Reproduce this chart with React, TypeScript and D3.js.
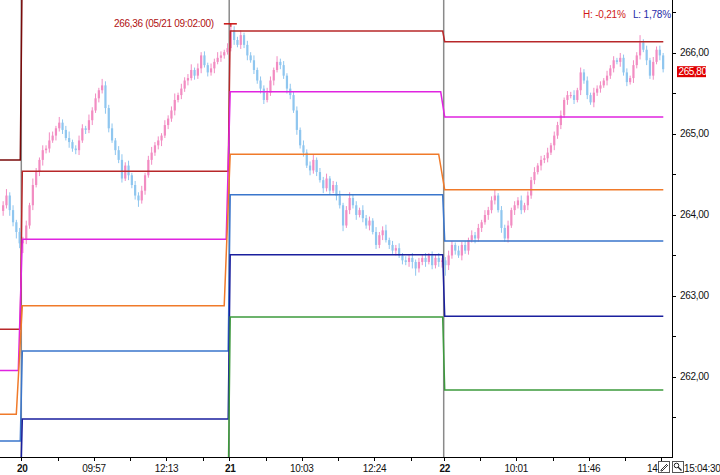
import React from "react";
import * as d3 from "d3";

// ---------- DATA ----------
const firstOpen = 264.05;
const preClose = [264.12, 264.24, 264.06, 263.91, 263.79, 263.65];
const day20Close = [263.69, 263.87, 264.12, 264.37, 264.53, 264.68, 264.80, 264.82, 264.92, 264.98, 265.07, 265.14, 265.05, 264.95, 264.90, 264.82, 264.80, 264.92, 265.07, 265.05, 265.17, 265.29, 265.44, 265.54, 265.60, 265.32, 265.07, 264.92, 264.80, 264.68, 264.45, 264.61, 264.49, 264.37, 264.24, 264.18, 264.30, 264.49, 264.68, 264.77, 264.86, 264.92, 264.98, 265.11, 265.19, 265.29, 265.42, 265.48, 265.56, 265.66, 265.69, 265.79, 265.72, 265.81, 265.97, 265.85, 265.76, 265.81, 265.89, 265.94, 265.97, 266.01, 266.06];
const day21Close = [266.28, 266.16, 266.10, 266.22, 266.10, 265.97, 265.91, 265.79, 265.66, 265.56, 265.42, 265.51, 265.66, 265.79, 265.89, 265.85, 265.72, 265.56, 265.48, 265.29, 265.05, 264.86, 264.77, 264.61, 264.55, 264.68, 264.53, 264.43, 264.33, 264.45, 264.30, 264.37, 264.24, 264.12, 263.87, 264.06, 264.21, 264.12, 264.00, 264.06, 263.96, 263.87, 263.93, 263.79, 263.63, 263.75, 263.81, 263.69, 263.63, 263.56, 263.59, 263.50, 263.44, 263.42, 263.47, 263.42, 263.34, 263.42, 263.47, 263.42, 263.50, 263.38, 263.47, 263.42, 263.44];
const day22Close = [263.38, 263.50, 263.63, 263.56, 263.50, 263.63, 263.56, 263.69, 263.75, 263.71, 263.84, 263.91, 264.00, 264.06, 264.18, 264.24, 264.06, 263.84, 263.71, 263.87, 264.06, 264.12, 264.18, 264.06, 264.12, 264.24, 264.43, 264.53, 264.61, 264.68, 264.70, 264.77, 264.86, 264.98, 265.11, 265.23, 265.42, 265.48, 265.48, 265.42, 265.54, 265.76, 265.66, 265.48, 265.39, 265.51, 265.56, 265.60, 265.66, 265.72, 265.81, 265.91, 265.89, 265.94, 265.76, 265.64, 265.69, 265.85, 265.97, 266.13, 266.04, 265.91, 265.72, 265.89, 266.04, 265.97, 265.80];

// upper / lower wick extents beyond the body
const preUp = [0.05, 0.08, 0.04, 0.06, 0.03, 0.05];
const preLo = [0.06, 0.04, 0.07, 0.05, 0.08, 0.06];
const day20Up = [0.04, 0.06, 0.03, 0.08, 0.05, 0.03, 0.06, 0.04, 0.10, 0.05, 0.03, 0.07, 0.04, 0.05, 0.08, 0.03, 0.04, 0.06, 0.05, 0.03, 0.07, 0.04, 0.06, 0.03, 0.08, 0.05, 0.04, 0.06, 0.03, 0.05, 0.07, 0.04, 0.06, 0.03, 0.05, 0.04, 0.06, 0.03, 0.05, 0.07, 0.04, 0.05, 0.03, 0.06, 0.04, 0.05, 0.08, 0.03, 0.06, 0.04, 0.05, 0.07, 0.03, 0.06, 0.04, 0.05, 0.03, 0.06, 0.04, 0.07, 0.05, 0.03, 0.06];
const day20Lo = [0.12, 0.05, 0.04, 0.06, 0.03, 0.05, 0.07, 0.04, 0.05, 0.03, 0.06, 0.04, 0.05, 0.03, 0.07, 0.04, 0.05, 0.06, 0.03, 0.05, 0.04, 0.06, 0.03, 0.05, 0.04, 0.07, 0.05, 0.03, 0.06, 0.04, 0.05, 0.03, 0.06, 0.04, 0.05, 0.08, 0.04, 0.05, 0.03, 0.06, 0.04, 0.05, 0.07, 0.03, 0.05, 0.04, 0.06, 0.03, 0.05, 0.04, 0.06, 0.03, 0.05, 0.04, 0.06, 0.03, 0.05, 0.04, 0.06, 0.03, 0.05, 0.04, 0.03];
const day21Up = [0.08, 0.05, 0.04, 0.06, 0.03, 0.05, 0.04, 0.06, 0.03, 0.05, 0.04, 0.06, 0.05, 0.03, 0.07, 0.04, 0.05, 0.03, 0.06, 0.04, 0.05, 0.03, 0.06, 0.04, 0.05, 0.07, 0.03, 0.05, 0.04, 0.06, 0.03, 0.05, 0.04, 0.06, 0.03, 0.05, 0.07, 0.04, 0.05, 0.03, 0.06, 0.04, 0.05, 0.03, 0.06, 0.04, 0.05, 0.07, 0.03, 0.05, 0.04, 0.06, 0.03, 0.05, 0.04, 0.06, 0.03, 0.05, 0.04, 0.06, 0.03, 0.05, 0.04, 0.06, 0.03];
const day21Lo = [0.04, 0.06, 0.03, 0.05, 0.04, 0.06, 0.03, 0.05, 0.04, 0.06, 0.05, 0.03, 0.04, 0.06, 0.03, 0.05, 0.04, 0.06, 0.05, 0.03, 0.06, 0.04, 0.05, 0.03, 0.06, 0.04, 0.05, 0.03, 0.06, 0.04, 0.05, 0.03, 0.06, 0.04, 0.07, 0.03, 0.05, 0.04, 0.06, 0.03, 0.05, 0.04, 0.06, 0.03, 0.05, 0.04, 0.06, 0.03, 0.05, 0.04, 0.06, 0.03, 0.05, 0.04, 0.06, 0.08, 0.09, 0.05, 0.04, 0.06, 0.03, 0.05, 0.04, 0.06, 0.07];
const day22Up = [0.04, 0.06, 0.05, 0.03, 0.06, 0.04, 0.05, 0.03, 0.06, 0.04, 0.05, 0.03, 0.06, 0.04, 0.05, 0.07, 0.03, 0.05, 0.04, 0.06, 0.03, 0.05, 0.04, 0.06, 0.03, 0.05, 0.04, 0.06, 0.03, 0.05, 0.04, 0.06, 0.03, 0.05, 0.04, 0.06, 0.03, 0.05, 0.04, 0.06, 0.03, 0.06, 0.04, 0.05, 0.03, 0.06, 0.04, 0.05, 0.03, 0.06, 0.04, 0.05, 0.03, 0.06, 0.04, 0.05, 0.03, 0.06, 0.04, 0.09, 0.04, 0.05, 0.03, 0.06, 0.04, 0.05, 0.03];
const day22Lo = [0.13, 0.06, 0.04, 0.05, 0.03, 0.06, 0.04, 0.05, 0.03, 0.06, 0.04, 0.05, 0.03, 0.06, 0.04, 0.05, 0.03, 0.06, 0.04, 0.05, 0.03, 0.06, 0.04, 0.05, 0.03, 0.06, 0.04, 0.05, 0.03, 0.06, 0.04, 0.05, 0.03, 0.06, 0.04, 0.05, 0.03, 0.06, 0.04, 0.05, 0.03, 0.06, 0.04, 0.05, 0.03, 0.06, 0.04, 0.05, 0.03, 0.06, 0.04, 0.05, 0.03, 0.06, 0.04, 0.05, 0.03, 0.06, 0.04, 0.05, 0.03, 0.06, 0.04, 0.05, 0.03, 0.06, 0.04];

// level lines: values for [previous session, day 20, day 21, day 22]
const levelMaroon = [264.68, 267.2, 267.2, 267.2];
const levelRed = [262.59, 264.54, 266.27, 266.14];
const levelMagenta = [262.08, 263.70, 265.52, 265.21];
const levelOrange = [261.54, 262.88, 264.75, 264.31];
const levelSteel = [261.21, 262.32, 264.25, 263.68];
const levelNavy = [260.50, 261.48, 263.51, 262.75];
const levelGreen = [259.90, 260.60, 262.74, 261.84];

const xTickBars = [6, 17, 28, 39, 50, 61, 69, 80, 91, 102, 113, 124, 134, 145, 156, 167, 178, 189, 200];
const xLabels = ["20", "", "09:57", "", "12:13", "", "21", "", "10:03", "", "12:24", "", "22", "", "10:01", "", "11:46", "", ""];
const xLabelBold = [true, false, false, false, false, false, true, false, false, false, false, false, true, false, false, false, false, false, false];
const yTicks = [262, 263, 264, 265, 266];
const yMinorTicks = [261.5, 262.5, 263.5, 264.5, 265.5, 266.5];
const highValue = 266.36;
const highLabel = "266,36 (05/21 09:02:00)";
const highBarIndex = 69;
const lastPrice = 265.8;
const hText = "H: -0,21%";
const lText = "L: 1,78%";
const clockText = "15:04:30";
const partialTimeLabel = "14";

// ---------- STYLE ----------
const PLOT_R = 672;
const PLOT_B = 457;
const BAR_STEP = 3.3;
const FONT = "'Liberation Sans', Arial, sans-serif";
const UP = "#f28cc2";
const DOWN = "#8fc6ef";

const levelStyles = [
  { vals: levelMaroon, color: "#7a0a0a", lead: 1 },
  { vals: levelRed, color: "#b8282a", lead: 1 },
  { vals: levelMagenta, color: "#e024e0", lead: 3 },
  { vals: levelOrange, color: "#f07a2a", lead: 5 },
  { vals: levelSteel, color: "#3a76cc", lead: 1 },
  { vals: levelNavy, color: "#1a1f9e", lead: 1 },
  { vals: levelGreen, color: "#3d9a3d", lead: 1 },
];

const fmt = (v: number) => d3.format(".2f")(v).replace(".", ",");

export default function App() {
  const closes = [...preClose, ...day20Close, ...day21Close, ...day22Close];
  const ups = [...preUp, ...day20Up, ...day21Up, ...day22Up];
  const los = [...preLo, ...day20Lo, ...day21Lo, ...day22Lo];
  const N = closes.length;
  const dayStarts = [
    preClose.length,
    preClose.length + day20Close.length,
    preClose.length + day20Close.length + day21Close.length,
  ];

  const x = d3.scaleLinear().domain([0, N]).range([1.5, 1.5 + N * BAR_STEP]);
  const y = d3.scaleLinear().domain([261.012, 266.654]).range([PLOT_B, 0]);

  const bars = closes.map((c, i) => {
    const o = i === 0 ? firstOpen : closes[i - 1];
    const h = Math.max(o, c) + ups[i];
    const l = Math.min(o, c) - los[i];
    return { i, o, c, h, l };
  });

  const segStart = [x(-3), ...dayStarts.map((d) => x(d))];
  const segEnd = [...dayStarts.map((d) => x(d)), x(N) - 1.5];

  const levelPath = (vals: number[], lead: number) => {
    const p = d3.path();
    vals.forEach((v, k) => {
      const xs = k === 0 ? segStart[0] : segStart[k] + 1;
      const xe = k === vals.length - 1 ? segEnd[k] : segEnd[k] - lead;
      if (k === 0) p.moveTo(xs, y(v));
      else p.lineTo(xs, y(v));
      p.lineTo(xe, y(v));
    });
    return p.toString();
  };

  const hx = x(highBarIndex + 0.5);

  return (
    <div style={{ position: "fixed", left: 0, top: 0, width: 720, height: 475, background: "#fff" }}>
      <svg width={720} height={475} style={{ display: "block" }} fontFamily={FONT}>
        <defs>
          <clipPath id="plotClip">
            <rect x={0} y={0} width={PLOT_R} height={PLOT_B} />
          </clipPath>
        </defs>
        <g clipPath="url(#plotClip)">
          {dayStarts.map((d, k) => (
            <line key={k} x1={x(d)} x2={x(d)} y1={0} y2={PLOT_B} stroke="#8a8a8a" strokeWidth={1.5} />
          ))}
          {bars.map((b) => {
            const cx = x(b.i + 0.5);
            const col = b.c >= b.o ? UP : DOWN;
            const top = y(Math.max(b.o, b.c));
            const hgt = Math.max(1, y(Math.min(b.o, b.c)) - top);
            return (
              <g key={b.i}>
                <line x1={cx} x2={cx} y1={y(b.h)} y2={y(b.l)} stroke={col} strokeWidth={1} />
                <rect x={cx - 1.1} y={top} width={2.2} height={hgt} fill={col} />
              </g>
            );
          })}
          {levelStyles.map((s, k) => (
            <path key={k} d={levelPath(s.vals, s.lead)} fill="none" stroke={s.color} strokeWidth={1.5} />
          ))}
          <line x1={hx - 7} x2={hx + 6} y1={y(highValue)} y2={y(highValue)} stroke="#c81010" strokeWidth={1.5} />
          <line x1={hx} x2={hx} y1={y(highValue)} y2={y(highValue) + 3} stroke="#c81010" strokeWidth={1} />
        </g>
        <text x={hx - 17} y={y(highValue) + 3.5} fontSize={10} fill="#b01010" textAnchor="end" letterSpacing={-0.3}>
          {highLabel}
        </text>
        <text x={583} y={18} fontSize={10} fill="#d01818" letterSpacing={-0.2}>{hText}</text>
        <text x={633} y={18} fontSize={10} fill="#1f2aa8" letterSpacing={-0.2}>{lText}</text>

        {/* right axis */}
        <line x1={PLOT_R + 0.5} x2={PLOT_R + 0.5} y1={0} y2={PLOT_B + 1} stroke="#000" strokeWidth={1} />
        {yMinorTicks.map((t) => (
          <line key={"m" + t} x1={PLOT_R} x2={PLOT_R + 4} y1={Math.round(y(t)) + 0.5} y2={Math.round(y(t)) + 0.5} stroke="#000" />
        ))}
        {yTicks.map((t) => (
          <g key={t}>
            <line x1={PLOT_R} x2={PLOT_R + 4} y1={Math.round(y(t)) + 0.5} y2={Math.round(y(t)) + 0.5} stroke="#000" />
            <text x={680} y={y(t) + 3.5} fontSize={10} fill="#111" letterSpacing={-0.3}>{fmt(t)}</text>
          </g>
        ))}
        <rect x={677} y={y(lastPrice) - 3} width={29} height={11} fill="#e00000" />
        <text x={678.5} y={y(lastPrice) + 6} fontSize={10} fill="#fff" letterSpacing={-0.4}>{fmt(lastPrice)}</text>

        {/* bottom axis */}
        <line x1={0} x2={PLOT_R + 1} y1={PLOT_B + 0.5} y2={PLOT_B + 0.5} stroke="#000" strokeWidth={1} />
        {xTickBars.map((b, k) => (
          <g key={k}>
            <line x1={Math.round(x(b)) + 0.5} x2={Math.round(x(b)) + 0.5} y1={PLOT_B} y2={PLOT_B + 4} stroke="#000" />
            {xLabels[k] && (
              <text x={x(b) + (xLabelBold[k] ? 1 : 0)} y={472} fontSize={10} textAnchor="middle"
                fontWeight={xLabelBold[k] ? "bold" : "normal"} fill="#111" letterSpacing={-0.3}>
                {xLabels[k]}
              </text>
            )}
          </g>
        ))}
        <text x={647} y={472} fontSize={10} fill="#111" letterSpacing={-0.3}>{partialTimeLabel}</text>
        {/* toolbar icons */}
        <rect x={658.5} y={461.5} width={11} height={11} fill="#fff" stroke="#555" />
        <path d="M661,470 L667,464 M662,471 L668,465 M661,470 L661,471 L662,471" stroke="#333" fill="none" strokeWidth={1} />
        <rect x={672.5} y={461.5} width={11} height={11} fill="#fff" stroke="#555" />
        <circle cx={676.5} cy={465.5} r={2.3} fill="none" stroke="#222" strokeWidth={1} />
        <line x1={678.2} y1={467.2} x2={681.5} y2={470.5} stroke="#222" strokeWidth={1.3} />
        <text x={684} y={472} fontSize={10} fill="#111" letterSpacing={-0.3}>{clockText}</text>
      </svg>
    </div>
  );
}
